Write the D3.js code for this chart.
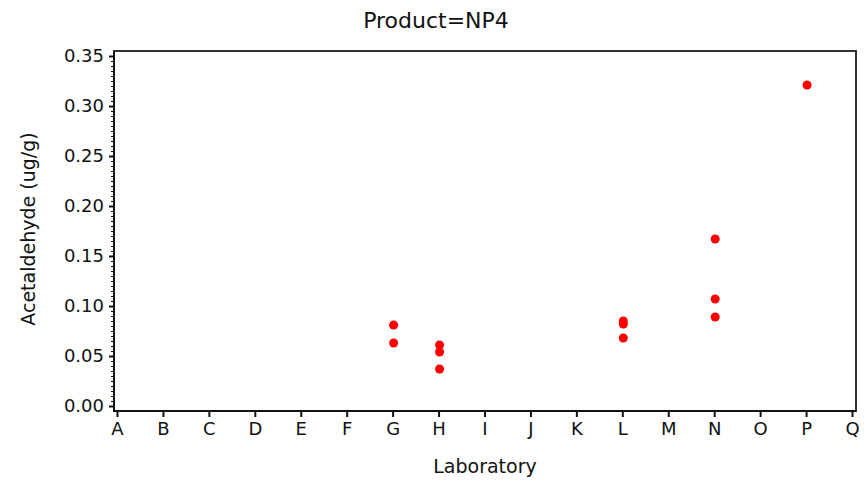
<!DOCTYPE html>
<html>
<head>
<meta charset="utf-8">
<script src="https://cdn.jsdelivr.net/npm/d3@7"></script>
<style>
  html, body { margin: 0; padding: 0; background: #ffffff; }
  svg { display: block; }
  text { font-family: "DejaVu Sans", Arial, sans-serif; fill: #111; }
</style>
</head>
<body>
<svg id="chart" width="868" height="482"></svg>
<script>
// Laboratory codes along the x axis
const laboratories = ["A","B","C","D","E","F","G","H","I","J","K","L","M","N","O","P","Q"];
// Acetaldehyde results per measurement
const sampleLab = ["G","G","H","H","H","L","L","L","N","N","N","P"];
const sampleValue = [0.081, 0.063, 0.061, 0.054, 0.037, 0.085, 0.082, 0.068, 0.167, 0.107, 0.089, 0.321];
// Y axis tick values
const yTicks = [0, 0.05, 0.10, 0.15, 0.20, 0.25, 0.30, 0.35];
const yMinorTicks = d3.range(0, 0.3501, 0.005);

const FONT = "DejaVu Sans, Arial, sans-serif";
const svg = d3.select("#chart");
const frame = { left: 114, right: 856, top: 51, bottom: 411 };

const x = d3.scalePoint().domain(laboratories).range([117, 852]);
const y = d3.scaleLinear().domain([0, 0.35]).range([406, 56]);

// plot frame
svg.append("rect")
  .attr("x", frame.left).attr("y", frame.top)
  .attr("width", frame.right - frame.left).attr("height", frame.bottom - frame.top)
  .attr("fill", "#fff").attr("stroke", "#333").attr("stroke-width", 2);

// y axis: minor ticks
svg.append("g")
  .attr("transform", `translate(${frame.left},0)`)
  .call(d3.axisLeft(y).tickValues(yMinorTicks).tickSize(3).tickFormat(""))
  .call(g => g.select(".domain").remove())
  .call(g => g.selectAll("line").attr("stroke", "#111").attr("stroke-width", 1));

// y axis: major ticks and labels
svg.append("g")
  .attr("transform", `translate(${frame.left},0)`)
  .call(d3.axisLeft(y).tickValues(yTicks).tickSize(5).tickPadding(5).tickFormat(d3.format(".2f")))
  .call(g => g.select(".domain").remove())
  .call(g => g.selectAll("line").attr("stroke", "#111").attr("stroke-width", 2))
  .call(g => g.selectAll("text").attr("font-size", 18).attr("font-family", FONT).attr("fill", "#111"));

// x axis
svg.append("g")
  .attr("transform", `translate(0,${frame.bottom})`)
  .call(d3.axisBottom(x).tickSize(6).tickPadding(5))
  .call(g => g.select(".domain").remove())
  .call(g => g.selectAll("line").attr("stroke", "#111").attr("stroke-width", 2))
  .call(g => g.selectAll("text").attr("font-size", 18).attr("font-family", FONT).attr("fill", "#111"));

// redraw left and bottom edges on top of tick stubs
svg.append("path")
  .attr("d", `M${frame.left},${frame.top}V${frame.bottom}H${frame.right}`)
  .attr("fill", "none").attr("stroke", "#111").attr("stroke-width", 2);

// measurements
svg.append("g").selectAll("circle")
  .data(sampleValue)
  .join("circle")
  .attr("cx", (d, i) => x(sampleLab[i]) + 1)
  .attr("cy", d => y(d))
  .attr("r", 4.5)
  .attr("fill", "#ff0000");

// titles
svg.append("text")
  .attr("x", 436).attr("y", 28)
  .attr("text-anchor", "middle").attr("font-size", 22)
  .text("Product=NP4");

svg.append("text")
  .attr("x", 485).attr("y", 473)
  .attr("text-anchor", "middle").attr("font-size", 19)
  .text("Laboratory");

svg.append("text")
  .attr("transform", "translate(35,229) rotate(-90)")
  .attr("text-anchor", "middle").attr("font-size", 19)
  .text("Acetaldehyde (ug/g)");
</script>
</body>
</html>
